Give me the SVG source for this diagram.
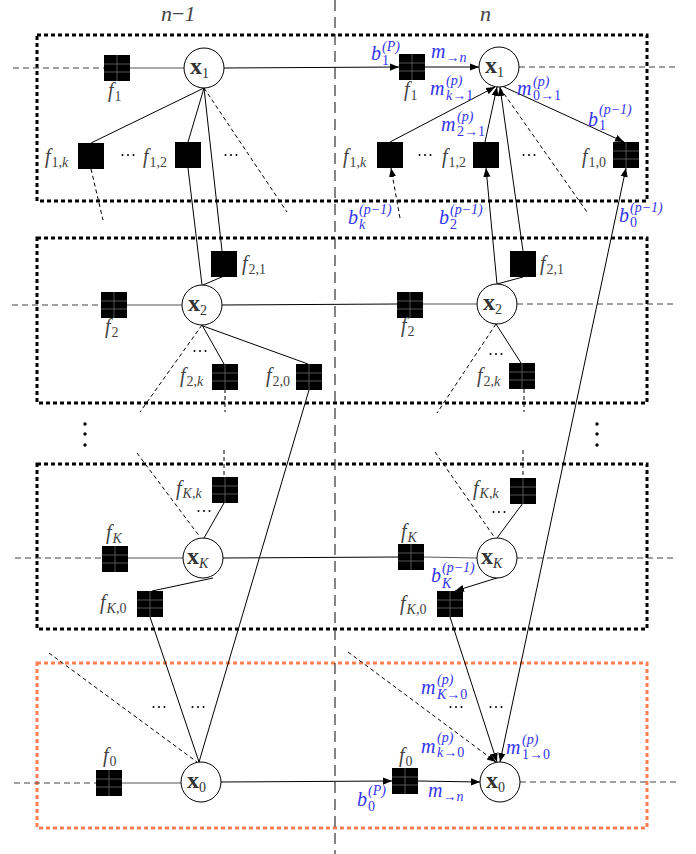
<svg xmlns="http://www.w3.org/2000/svg" width="696" height="854" viewBox="0 0 696 854">
<style>
.box{fill:none;stroke:#000;stroke-width:3;stroke-dasharray:4 3}
.obox{fill:none;stroke:#ff7f50;stroke-width:3;stroke-dasharray:4 3}
.ln{stroke:#000;stroke-width:1;fill:none}
.hl{stroke:#555;stroke-width:1.2;fill:none}
.dl{stroke:#000;stroke-width:1;stroke-dasharray:4 3;fill:none}
.hd{stroke:#444;stroke-width:1.2;stroke-dasharray:6 4;fill:none}
.vd{stroke:#333;stroke-width:1.2;stroke-dasharray:11 6;fill:none}
.ar{marker-end:url(#ah)}
.circ{fill:#fff;stroke:#000;stroke-width:1}
.t{font-family:"Liberation Serif","DejaVu Serif",serif;font-size:20px;font-style:italic;fill:#444}
.x{font-family:"Liberation Serif","DejaVu Serif",serif;font-size:24px;font-weight:bold;fill:#333}
.b{font-family:"Liberation Serif","DejaVu Serif",serif;font-size:20px;font-style:italic;fill:#3333f0}
.s{font-size:14px;font-style:normal;font-weight:normal}
.i{font-style:italic}
.top{font-family:"Liberation Serif","DejaVu Serif",serif;font-size:22px;font-style:italic;fill:#444}
</style>
<defs>
<marker id="ah" viewBox="0 0 10 10" refX="10" refY="5" markerWidth="9" markerHeight="9" markerUnits="userSpaceOnUse" orient="auto-start-reverse"><path d="M0,1 L10,5 L0,9 z" fill="#000"/></marker>
<symbol id="grid" viewBox="0 0 26 26" width="26" height="26"><rect width="26" height="26" fill="#000"/><path d="M0,9H26M0,17H26M13,0V26" stroke="#777" stroke-width="0.7"/></symbol>
<symbol id="solid" viewBox="0 0 26 26" width="26" height="26"><rect width="26" height="26" fill="#000"/></symbol>
<symbol id="hdots" viewBox="0 0 14 4" width="14" height="4" overflow="visible"><circle cx="1.5" cy="2" r="1"/><circle cx="7" cy="2" r="1"/><circle cx="12.5" cy="2" r="1"/></symbol>
</defs>
<rect width="696" height="854" fill="#fff"/>

<g id="frames">
<rect class="box" x="37" y="35" width="610" height="166"/>
<rect class="box" x="37" y="238" width="610" height="165"/>
<rect class="box" x="37" y="464" width="610" height="165"/>
<rect class="obox" x="37" y="663" width="610" height="165"/>
<line class="vd" x1="335" y1="0" x2="335" y2="854"/>
</g>

<g id="connectors">
<line class="hd" x1="13" y1="68" x2="104" y2="68"/>
<line class="hd" x1="519" y1="67" x2="675" y2="67"/>
<line class="hd" x1="12" y1="305" x2="101" y2="305"/>
<line class="hd" x1="517" y1="304" x2="673" y2="304"/>
<line class="hd" x1="15" y1="558" x2="102" y2="558"/>
<line class="hd" x1="517" y1="558" x2="675" y2="558"/>
<line class="hd" x1="14" y1="783" x2="96" y2="783"/>
<line class="hd" x1="520" y1="782" x2="677" y2="782"/>
<line class="hl" x1="129" y1="68" x2="184" y2="68"/>
<line class="ln ar" x1="224" y1="68" x2="399" y2="67"/>
<line class="ln ar" x1="425" y1="67" x2="479" y2="67"/>
<line class="hl" x1="127" y1="305" x2="182" y2="305"/>
<line class="ln" x1="222" y1="305" x2="397" y2="304"/>
<line class="hl" x1="423" y1="304" x2="477" y2="304"/>
<line class="hl" x1="128" y1="558" x2="183" y2="558"/>
<line class="ln" x1="223" y1="558" x2="398" y2="557"/>
<line class="hl" x1="424" y1="557" x2="477" y2="558"/>
<line class="hl" x1="122" y1="783" x2="181" y2="783"/>
<line class="ln ar" x1="221" y1="782" x2="392" y2="781"/>
<line class="ln ar" x1="418" y1="781" x2="480" y2="782"/>
<line class="ln" x1="204" y1="88" x2="91" y2="143"/>
<line class="ln" x1="204" y1="88" x2="188" y2="142"/>
<line class="ln" x1="204" y1="88" x2="222" y2="251"/>
<line class="dl" x1="204" y1="88" x2="287" y2="212"/>
<line class="dl" x1="91" y1="169" x2="103" y2="220"/>
<line class="ln" x1="188" y1="168" x2="202" y2="285"/>
<line class="ln" x1="224" y1="276" x2="203" y2="285"/>
<line class="dl" x1="202" y1="325" x2="140" y2="412"/>
<line class="ln" x1="202" y1="325" x2="224" y2="364"/>
<line class="ln" x1="203" y1="326" x2="308" y2="364"/>
<line class="dl" x1="225" y1="389" x2="225" y2="412"/>
<line class="ln" x1="309" y1="390" x2="199" y2="762"/>
<line class="dl" x1="137" y1="453" x2="200" y2="537"/>
<line class="dl" x1="224" y1="450" x2="224" y2="477"/>
<line class="ln" x1="224" y1="503" x2="204" y2="538"/>
<line class="ln" x1="213" y1="578" x2="152" y2="591"/>
<line class="ln" x1="150" y1="617" x2="199" y2="762"/>
<line class="dl" x1="49" y1="653" x2="197" y2="762"/>
<line class="ln ar" x1="390" y1="142" x2="495" y2="87"/>
<line class="ln ar" x1="485" y1="142" x2="497" y2="87"/>
<line class="ln ar" x1="523" y1="251" x2="500" y2="87"/>
<line class="dl" x1="500" y1="88" x2="587" y2="212"/>
<line class="ln ar" x1="502" y1="86" x2="624" y2="142"/>
<line class="dl ar" x1="400" y1="218" x2="391" y2="168"/>
<line class="ln ar" x1="497" y1="284" x2="486" y2="168"/>
<line class="ln" x1="497" y1="284" x2="523" y2="277"/>
<line class="dl" x1="496" y1="324" x2="437" y2="413"/>
<line class="ln" x1="496" y1="324" x2="521" y2="363"/>
<line class="dl" x1="524" y1="389" x2="524" y2="412"/>
<line class="dl" x1="435" y1="452" x2="495" y2="538"/>
<line class="dl" x1="523" y1="450" x2="523" y2="478"/>
<line class="ln" x1="523" y1="503" x2="497" y2="538"/>
<line class="ln ar" x1="500" y1="577" x2="455" y2="591"/>
<line class="ln ar" x1="450" y1="617" x2="497" y2="762"/>
<line class="dl ar" x1="348" y1="652" x2="496" y2="762"/>
<line class="ln" x1="500" y1="762" x2="626" y2="168" marker-start="url(#ah)" marker-end="url(#ah)"/>
</g>

<g id="header">
<text class="top" x="161" y="21">n<tspan font-style="normal">−</tspan>1</text>
<text class="top" x="480" y="21">n</text>
</g>

<g id="L-f1"><use href="#grid" x="104" y="55"/><text class="t" x="108" y="97">f<tspan class="s" dx="1" dy="4">1</tspan></text></g>
<g id="L-x1"><circle class="circ" cx="204" cy="68" r="20"/><text class="x" x="190" y="74">x<tspan class="s" dy="4">1</tspan></text></g>
<g id="L-f1k"><use href="#solid" x="78" y="143"/><text class="t" x="45" y="163">f<tspan class="s" dx="1" dy="4">1,<tspan class="i">k</tspan></tspan></text></g>
<g id="L-dots1a"><use href="#hdots" x="121" y="153"/></g>
<g id="L-f12"><use href="#solid" x="175" y="142"/><text class="t" x="143" y="163">f<tspan class="s" dx="1" dy="4">1,2</tspan></text></g>
<g id="L-dots1b"><use href="#hdots" x="224" y="153"/></g>
<g id="L-f21"><use href="#solid" x="211" y="251"/><text class="t" x="242" y="270">f<tspan class="s" dx="1" dy="4">2,1</tspan></text></g>
<g id="L-f2"><use href="#grid" x="101" y="292"/><text class="t" x="105" y="333">f<tspan class="s" dx="1" dy="4">2</tspan></text></g>
<g id="L-x2"><circle class="circ" cx="202" cy="305" r="20"/><text class="x" x="188" y="311">x<tspan class="s" dy="4">2</tspan></text></g>
<g id="L-dots2"><use href="#hdots" x="193" y="349"/></g>
<g id="L-f2k"><use href="#grid" x="212" y="364"/><text class="t" x="180" y="382">f<tspan class="s" dx="1" dy="4">2,<tspan class="i">k</tspan></tspan></text></g>
<g id="L-f20"><use href="#grid" x="296" y="364"/><text class="t" x="266" y="382">f<tspan class="s" dx="1" dy="4">2,0</tspan></text></g>
<g id="L-vdots"><circle cx="85" cy="424" r="1.7"/><circle cx="85" cy="434" r="1.7"/><circle cx="85" cy="445" r="1.7"/></g>
<g id="L-fKk"><use href="#grid" x="212" y="477"/><text class="t" x="176" y="495">f<tspan class="s" dx="1" dy="3"><tspan class="i">K</tspan>,<tspan class="i">k</tspan></tspan></text></g>
<g id="L-dotsK"><use href="#hdots" x="197" y="509"/></g>
<g id="L-fK"><use href="#grid" x="102" y="546"/><text class="t" x="106" y="539">f<tspan class="s i" dx="1" dy="4">K</tspan></text></g>
<g id="L-xK"><circle class="circ" cx="203" cy="558" r="20"/><text class="x" x="187" y="564">x<tspan class="s i" dy="4">K</tspan></text></g>
<g id="L-fK0"><use href="#grid" x="137" y="591"/><text class="t" x="100" y="609">f<tspan class="s" dx="1" dy="4"><tspan class="i">K</tspan>,0</tspan></text></g>
<g id="L-dots0"><use href="#hdots" x="152" y="705"/><use href="#hdots" x="191" y="705"/></g>
<g id="L-f0"><use href="#grid" x="96" y="770"/><text class="t" x="103" y="762">f<tspan class="s" dx="1" dy="4">0</tspan></text></g>
<g id="L-x0"><circle class="circ" cx="201" cy="782" r="20"/><text class="x" x="187" y="788">x<tspan class="s" dy="4">0</tspan></text></g>

<g id="R-f1"><use href="#grid" x="399" y="54"/><text class="t" x="404" y="96">f<tspan class="s" dx="1" dy="4">1</tspan></text></g>
<g id="R-x1"><circle class="circ" cx="499" cy="67" r="20"/><text class="x" x="485" y="73">x<tspan class="s" dy="4">1</tspan></text></g>
<g id="R-f1k"><use href="#solid" x="377" y="142"/><text class="t" x="343" y="163">f<tspan class="s" dx="1" dy="4">1,<tspan class="i">k</tspan></tspan></text></g>
<g id="R-dots1a"><use href="#hdots" x="418" y="153"/></g>
<g id="R-f12"><use href="#solid" x="473" y="142"/><text class="t" x="442" y="163">f<tspan class="s" dx="1" dy="4">1,2</tspan></text></g>
<g id="R-dots1b"><use href="#hdots" x="522" y="153"/></g>
<g id="R-f10"><use href="#grid" x="613" y="142"/><text class="t" x="582" y="163">f<tspan class="s" dx="1" dy="4">1,0</tspan></text></g>
<g id="R-f21"><use href="#solid" x="510" y="251"/><text class="t" x="540" y="270">f<tspan class="s" dx="1" dy="4">2,1</tspan></text></g>
<g id="R-f2"><use href="#grid" x="397" y="292"/><text class="t" x="401" y="332">f<tspan class="s" dx="1" dy="4">2</tspan></text></g>
<g id="R-x2"><circle class="circ" cx="497" cy="304" r="20"/><text class="x" x="483" y="310">x<tspan class="s" dy="4">2</tspan></text></g>
<g id="R-dots2"><use href="#hdots" x="489" y="352"/></g>
<g id="R-f2k"><use href="#grid" x="509" y="363"/><text class="t" x="477" y="382">f<tspan class="s" dx="1" dy="4">2,<tspan class="i">k</tspan></tspan></text></g>
<g id="R-vdots"><circle cx="597" cy="424" r="1.7"/><circle cx="597" cy="434" r="1.7"/><circle cx="597" cy="445" r="1.7"/></g>
<g id="R-fKk"><use href="#grid" x="510" y="478"/><text class="t" x="473" y="495">f<tspan class="s" dx="1" dy="3"><tspan class="i">K</tspan>,<tspan class="i">k</tspan></tspan></text></g>
<g id="R-dotsK"><use href="#hdots" x="492" y="510"/></g>
<g id="R-fK"><use href="#grid" x="398" y="544"/><text class="t" x="401" y="538">f<tspan class="s i" dx="1" dy="4">K</tspan></text></g>
<g id="R-xK"><circle class="circ" cx="497" cy="558" r="20"/><text class="x" x="481" y="564">x<tspan class="s i" dy="4">K</tspan></text></g>
<g id="R-fK0"><use href="#grid" x="437" y="591"/><text class="t" x="400" y="610">f<tspan class="s" dx="1" dy="4"><tspan class="i">K</tspan>,0</tspan></text></g>
<g id="R-dots0"><use href="#hdots" x="449" y="705"/><use href="#hdots" x="489" y="705"/></g>
<g id="R-f0"><use href="#grid" x="392" y="768"/><text class="t" x="399" y="762">f<tspan class="s" dx="1" dy="4">0</tspan></text></g>
<g id="R-x0"><circle class="circ" cx="500" cy="782" r="20"/><text class="x" x="486" y="788">x<tspan class="s" dy="4">0</tspan></text></g>

<g id="messages">
<text class="b" x="371" y="60">b<tspan class="s i" x="382" y="51">(P)</tspan><tspan class="s" x="382" y="65">1</tspan></text>
<text class="b" x="431" y="58">m<tspan class="s" dy="4">→<tspan class="i">n</tspan></tspan></text>
<text class="b" x="430" y="95">m<tspan class="s i" x="446" y="85">(p)</tspan><tspan class="s" x="446" y="100"><tspan class="i">k</tspan>→1</tspan></text>
<text class="b" x="517" y="95">m<tspan class="s i" x="533" y="86">(p)</tspan><tspan class="s" x="533" y="100">0→1</tspan></text>
<text class="b" x="441" y="131">m<tspan class="s i" x="457" y="121">(p)</tspan><tspan class="s" x="457" y="136">2→1</tspan></text>
<text class="b" x="588" y="126">b<tspan class="s i" x="599" y="114">(p−1)</tspan><tspan class="s" x="599" y="130">1</tspan></text>
<text class="b" x="348" y="224">b<tspan class="s i" x="359" y="214">(p−1)</tspan><tspan class="s i" x="359" y="229">k</tspan></text>
<text class="b" x="439" y="224">b<tspan class="s i" x="450" y="214">(p−1)</tspan><tspan class="s" x="450" y="229">2</tspan></text>
<text class="b" x="619" y="222">b<tspan class="s i" x="630" y="212">(p−1)</tspan><tspan class="s" x="630" y="227">0</tspan></text>
<text class="b" x="431" y="582">b<tspan class="s i" x="442" y="572">(p−1)</tspan><tspan class="s i" x="442" y="588">K</tspan></text>
<text class="b" x="421" y="694">m<tspan class="s i" x="437" y="684">(p)</tspan><tspan class="s" x="437" y="699"><tspan class="i">K</tspan>→0</tspan></text>
<text class="b" x="421" y="753">m<tspan class="s i" x="437" y="742">(p)</tspan><tspan class="s" x="437" y="757"><tspan class="i">k</tspan>→0</tspan></text>
<text class="b" x="506" y="754">m<tspan class="s i" x="522" y="744">(p)</tspan><tspan class="s" x="522" y="759">1→0</tspan></text>
<text class="b" x="357" y="806">b<tspan class="s i" x="368" y="795">(P)</tspan><tspan class="s" x="368" y="811">0</tspan></text>
<text class="b" x="428" y="797">m<tspan class="s" dy="4">→<tspan class="i">n</tspan></tspan></text>
</g>
</svg>
